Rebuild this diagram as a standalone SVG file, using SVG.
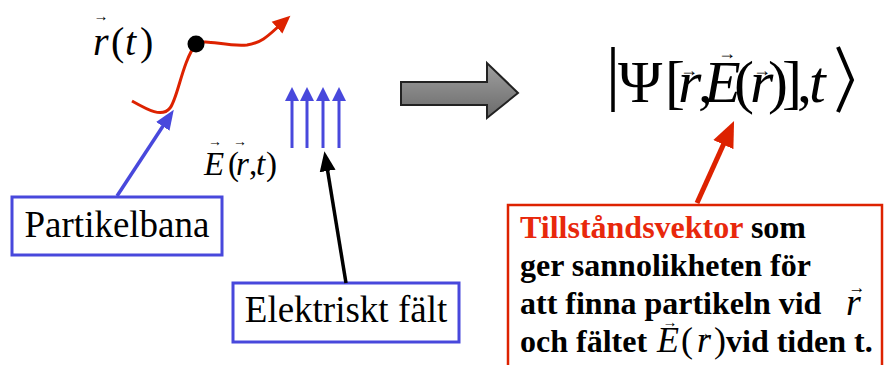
<svg xmlns="http://www.w3.org/2000/svg" width="884" height="365" viewBox="0 0 884 365">
<style>
.serif{font-family:"Liberation Serif","Times New Roman",serif;}
.it{font-style:italic;}
.vec{font-family:"Liberation Serif","DejaVu Serif",serif;text-anchor:middle;}
.lbl{font-family:"Liberation Serif","Times New Roman",serif;font-size:37px;fill:#000;text-anchor:middle;}
.box{font-family:"Liberation Serif","Times New Roman",serif;font-size:32px;font-weight:bold;fill:#000;}
.bluebox{fill:#fff;stroke:#4848DC;stroke-width:3;}
</style>
<defs>
<linearGradient id="g" x1="0" y1="0" x2="0" y2="1">
<stop offset="0" stop-color="#a0a0a0"/>
<stop offset="1" stop-color="#6a6a6a"/>
</linearGradient>
<marker id="ahRedCurve" markerUnits="userSpaceOnUse" markerWidth="20" markerHeight="20" refX="4" refY="8" orient="auto" viewBox="0 0 20 16">
<path d="M0,0 L18,8 L0,16 Z" fill="#DD2200"/>
</marker>
<marker id="ahBlue" markerUnits="userSpaceOnUse" markerWidth="20" markerHeight="18" refX="4" refY="8" orient="auto" viewBox="0 0 20 16">
<path d="M0,0 L20,8 L0,16 Z" fill="#4848DC"/>
</marker>
<marker id="ahBlack" markerUnits="userSpaceOnUse" markerWidth="20" markerHeight="18" refX="4" refY="8" orient="auto" viewBox="0 0 20 16">
<path d="M0,0 L20,8 L0,16 Z" fill="#000"/>
</marker>
<marker id="ahRed" markerUnits="userSpaceOnUse" markerWidth="26" markerHeight="24" refX="4" refY="11" orient="auto" viewBox="0 0 26 22">
<path d="M0,0 L26,11 L0,22 Z" fill="#DD2200"/>
</marker>
<marker id="ahField" markerUnits="userSpaceOnUse" markerWidth="14" markerHeight="14" refX="2" refY="7" orient="auto" viewBox="0 0 14 14">
<path d="M0,0 L14,7 L0,14 Z" fill="#4848DC"/>
</marker>
</defs>

<!-- particle path -->
<g id="trajectory">
<path d="M132,101 C148,110 162,118 170,108 C178,98 182,62 196,44 C205,38 225,47 247,45 C262,43 270,34 280,25" fill="none" stroke="#DD2200" stroke-width="3" marker-end="url(#ahRedCurve)"/>
<circle cx="196" cy="44" r="8.5" fill="#000"/>
</g>

<g id="label-rt">
<text class="serif" font-size="40" y="55"><tspan class="it" x="93">r</tspan><tspan x="111">(</tspan><tspan class="it" x="125">t</tspan><tspan x="140">)</tspan></text>
<text class="vec" font-size="15" x="101" y="21">→</text>
</g>

<!-- electric field arrows -->
<g id="field">
<line x1="292" y1="148" x2="292" y2="99" stroke="#4848DC" stroke-width="3" marker-end="url(#ahField)"/>
<line x1="307" y1="148" x2="307" y2="99" stroke="#4848DC" stroke-width="3" marker-end="url(#ahField)"/>
<line x1="323" y1="148" x2="323" y2="99" stroke="#4848DC" stroke-width="3" marker-end="url(#ahField)"/>
<line x1="339" y1="148" x2="339" y2="99" stroke="#4848DC" stroke-width="3" marker-end="url(#ahField)"/>
</g>

<g id="label-Ert">
<text class="serif" font-size="33" y="175"><tspan class="it" x="204">E</tspan><tspan x="228">(</tspan><tspan class="it" x="236">r</tspan><tspan x="249">,</tspan><tspan class="it" x="256">t</tspan><tspan x="266">)</tspan></text>
<text class="vec" font-size="14" x="215" y="146">→</text>
<text class="vec" font-size="14" x="240" y="146">→</text>
</g>

<!-- big grey arrow -->
<g id="bigArrow">
<polygon points="401,82 487,82 487,63 518,93 487,118 487,105 401,105" fill="url(#g)" stroke="#222" stroke-width="2"/>
</g>

<!-- ket -->
<g id="ket">
<line x1="613" y1="47" x2="613" y2="112" stroke="#000" stroke-width="3.5"/>
<text class="serif" font-size="60" y="102"><tspan x="618">Ψ</tspan><tspan x="665">[</tspan><tspan class="it" x="678">r</tspan><tspan x="698">,</tspan><tspan class="it" x="704">E</tspan><tspan x="734">(</tspan><tspan class="it" x="750">r</tspan><tspan x="768">)</tspan><tspan x="782">]</tspan><tspan x="797">,</tspan><tspan class="it" x="809">t</tspan></text>
<text class="vec" font-size="18" x="689" y="76">→</text>
<text class="vec" font-size="18" x="727" y="59">→</text>
<text class="vec" font-size="18" x="762" y="76">→</text>
<polyline points="838,47 852,80 838,112" fill="none" stroke="#000" stroke-width="4"/>
</g>

<!-- label boxes -->
<g id="node-partikelbana">
<rect class="bluebox" x="12" y="197" width="210" height="58"/>
<text class="lbl" x="117" y="237">Partikelbana</text>
</g>

<g id="node-elektriskt">
<rect class="bluebox" x="233" y="283" width="226" height="59"/>
<text class="lbl" x="346" y="322">Elektriskt fält</text>
</g>

<g id="node-tillstand">
<rect x="508" y="205" width="374" height="175" fill="#fff" stroke="#DD2200" stroke-width="2.5"/>
<text class="box" x="520" y="238"><tspan fill="#E8280C">Tillståndsvektor</tspan> som</text>
<text class="box" x="520" y="276">ger sannolikheten för</text>
<text class="box" x="520" y="314">att finna partikeln vid</text>
<text class="serif it" font-size="38" x="846" y="315">r</text>
<text class="vec" font-size="17" x="857" y="293">→</text>
<text class="box" x="520" y="352">och fältet</text>
<text class="serif" font-size="36" y="352"><tspan class="it" x="657">E</tspan><tspan x="681">(</tspan><tspan class="it" x="697">r</tspan><tspan x="714">)</tspan></text>
<text class="box" x="726" y="352">vid tiden t.</text>
<text class="vec" font-size="15" x="670" y="327">→</text>
<text class="vec" font-size="15" x="703" y="338">→</text>
</g>

<!-- connectors -->
<g id="connectors">
<line x1="117" y1="196" x2="165" y2="123" stroke="#4848DC" stroke-width="3.5" marker-end="url(#ahBlue)"/>
<line x1="346" y1="283" x2="327" y2="167" stroke="#000" stroke-width="3.5" marker-end="url(#ahBlack)"/>
<line x1="697" y1="203" x2="725" y2="141" stroke="#DD2200" stroke-width="5" marker-end="url(#ahRed)"/>
</g>
</svg>
